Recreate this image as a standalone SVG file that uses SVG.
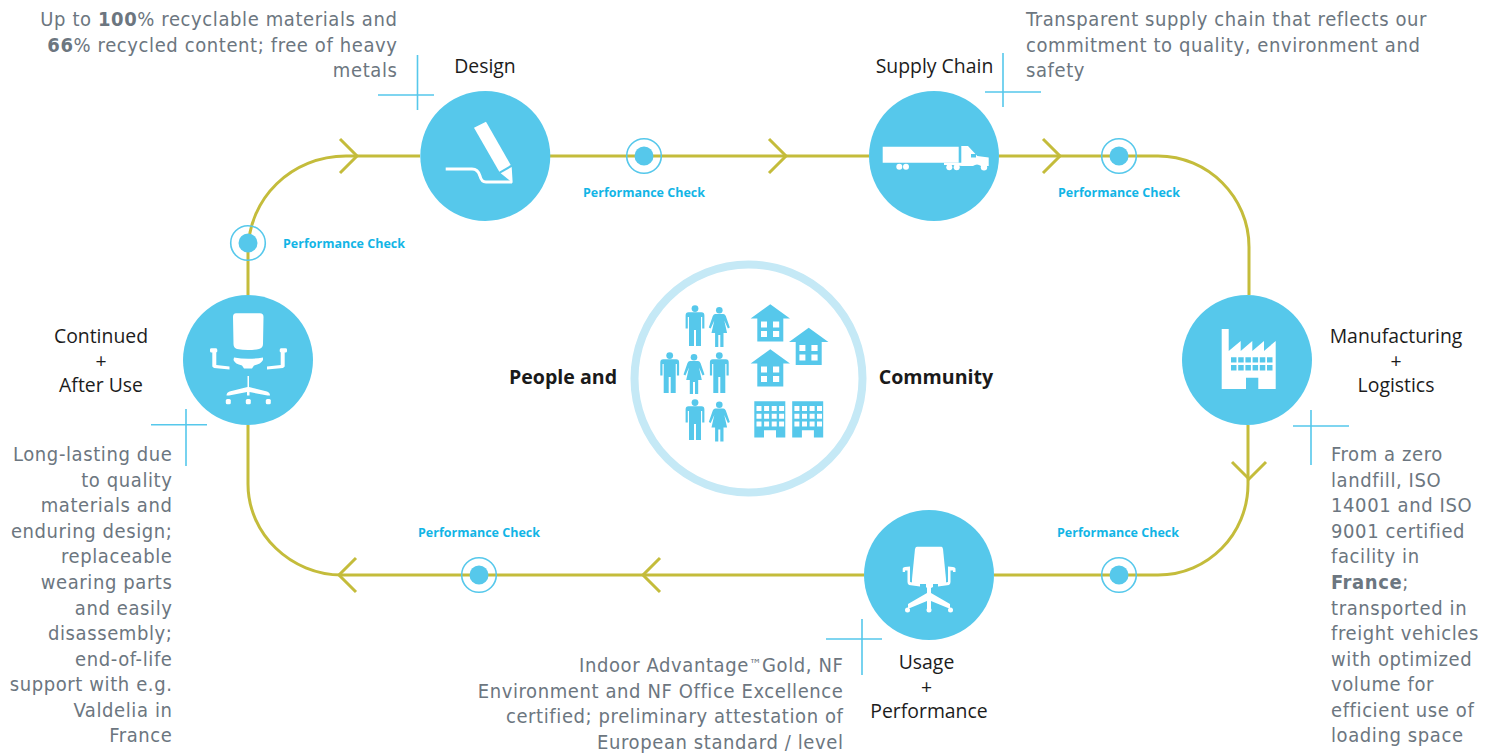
<svg xmlns="http://www.w3.org/2000/svg" width="1498" height="754" viewBox="0 0 1498 754">
<style>
.c{fill:#56c8eb}
.w{fill:#fff}
.ws{fill:none;stroke:#fff;stroke-width:3}
.l{font-family:"Open Sans","Noto Sans",sans-serif;font-size:19.400px;fill:#1c1c1c;text-anchor:middle}
.p{font-family:"Open Sans","Noto Sans",sans-serif;font-size:12.500px;font-weight:700;fill:#12b5e6;text-anchor:middle}
.m{font-family:"Open Sans","Noto Sans",sans-serif;font-size:19.600px;font-weight:700;fill:#1a1a1a;text-anchor:middle}
.g{font-family:"DejaVu Sans Condensed","DejaVu Sans",sans-serif;font-stretch:condensed;font-size:20px;fill:#6c7680;letter-spacing:.6px}
.e{text-anchor:end}
.b{font-weight:700}
.x{stroke:#56c8eb;stroke-width:1.600;fill:none}
.y{fill:none;stroke:#c4bc3b;stroke-width:3}
.r{fill:none;stroke:#56c8eb;stroke-width:1.600}
</style>
<defs>
<g id="man"><circle cx="0" cy="3.600" r="3.400"/><path d="M-6.500 7.300H6.500Q9.400 7.300 9.400 10.400V23.500H7.200V12H6V41H1V25H-1V41H-6V12H-7.200V23.500H-9.400V10.400Q-9.400 7.300-6.500 7.300Z"/></g>
<g id="woman"><circle cx="0" cy="3.300" r="3.300"/><path d="M-4 7H4Q5.600 7 6.500 9L10.500 20.500 8.600 21.600 5 13.500 7.800 26H4.200V40H1V28H-1V40H-4.200V26H-7.800L-5 13.500-8.600 21.600-10.500 20.500-6.500 9Q-5.600 7-4 7Z"/></g>
<path id="house" fill-rule="evenodd" d="M0 0 19.700 14.300H13V37.300H-13V14.300H-19.700ZM-9.300 17.300V23.300H-3.300V17.300ZM2.700 17.300V23.300H8.900V17.300ZM-9.300 26.700V32.700H-3.300V26.700ZM2.700 26.700V32.700H8.900V26.700Z"/>
<path id="block" fill-rule="evenodd" d="M0 0H31V36.300H21.700V29H9.700V36.300H0ZM2.200 4.700v5h5v-5ZM9.800 4.700v5h5v-5ZM17.400 4.700v5h5v-5ZM24.800 4.700v5h5v-5ZM2.200 12.500v5h5v-5ZM9.800 12.500v5h5v-5ZM17.400 12.500v5h5v-5ZM24.800 12.500v5h5v-5ZM2.200 20.300v5h5v-5ZM9.800 20.300v5h5v-5ZM17.400 20.300v5h5v-5ZM24.800 20.300v5h5v-5Z"/>
</defs>

<g id="connectors">
<path class="y" d="M248 295V252C248 198 292 156 346 156H420"/>
<path class="y" d="M550 156H869"/>
<path class="y" d="M999 156H1158C1208 156 1249 197 1249 247V295"/>
<path class="y" d="M1248 425V484C1248 534 1208 575 1158 575H994"/>
<path class="y" d="M864 575H342"/>
<path class="y" d="M342 575C291 575 248 534 248 484V425"/>
<path class="y" d="M340 139 357 156 340 173M769 139 786 156 769 173M1043 139 1060 156 1043 173M1232 462 1249 479 1266 462M660 558 643 575 660 592M356 558 339 575 356 592"/>
</g>

<g id="check-1"><circle class="r" cx="644" cy="156" r="17.300"/><circle class="c" cx="644" cy="156" r="9.500"/><text class="p" x="644" y="197">Performance Check</text></g>
<g id="check-2"><circle class="r" cx="1119" cy="156" r="17.300"/><circle class="c" cx="1119" cy="156" r="9.500"/><text class="p" x="1119" y="197">Performance Check</text></g>
<g id="check-3"><circle class="r" cx="1119" cy="575" r="17.300"/><circle class="c" cx="1119" cy="575" r="9.500"/><text class="p" x="1118" y="537">Performance Check</text></g>
<g id="check-4"><circle class="r" cx="479" cy="575" r="17.300"/><circle class="c" cx="479" cy="575" r="9.500"/><text class="p" x="479" y="537">Performance Check</text></g>
<g id="check-5"><circle class="r" cx="248" cy="243" r="17.300"/><circle class="c" cx="248" cy="243" r="9.500"/><text class="p" x="344" y="248">Performance Check</text></g>

<g id="design">
<circle class="c" cx="485.300" cy="156" r="65"/>
<path class="w" d="M474 127.700 486 121.700 510.700 165 499.300 171.700Z"/>
<path class="w" d="M500.700 173.300 511.700 167 512.700 183Z"/>
<path class="ws" d="M445.700 169H472Q478 169 480 176 481.500 182 486 182H512"/>
<text class="l" x="485" y="72.500">Design</text>
<path class="x" d="M417.500 55V110M378 95H434"/>
</g>

<g id="supply-chain">
<circle class="c" cx="934" cy="156" r="65"/>
<path class="w" d="M882.700 146.700H958.700V162.700H882.700Z"/>
<path class="w" d="M961.300 146H968L977.300 156 988.700 157.500V166H981Q977 163 973 166H962L952 165H944V162.700H961.300Z"/>
<circle class="w" cx="899.300" cy="166.700" r="3"/><circle class="w" cx="906" cy="166.700" r="3"/>
<circle class="w" cx="949.300" cy="167.200" r="3"/><circle class="w" cx="956.700" cy="167.200" r="3"/><circle class="w" cx="984" cy="167.200" r="3.200"/>
<path class="c" d="M971 154H976V157.500H971Z"/>
<text class="l" x="934.500" y="72.500">Supply Chain</text>
<path class="x" d="M1003 53V107M985 92H1041"/>
</g>

<g id="manufacturing">
<circle class="c" cx="1247" cy="360" r="65"/>
<path class="w" fill-rule="evenodd" d="M1221.700 329H1228.700V351L1240.700 341V351L1252.300 341V351L1264 341V351L1275.700 341V389H1258.300V377.700H1246V389H1221.700ZM1231 357.300v5.300h5.500v-5.300ZM1238.200 357.300v5.300h5.500v-5.300ZM1245.400 357.300v5.300h5.500v-5.300ZM1252.600 357.300v5.300h5.500v-5.300ZM1259.800 357.300v5.300h5.500v-5.300ZM1267 357.300v5.300h5.500v-5.300ZM1231 365v5.500h5.500V365ZM1238.200 365v5.500h5.500V365ZM1245.400 365v5.500h5.500V365ZM1252.600 365v5.500h5.500V365ZM1259.800 365v5.500h5.500V365ZM1267 365v5.500h5.500V365Z"/>
<text class="l"><tspan x="1396" y="342.500">Manufacturing</tspan><tspan x="1396" y="367.500">+</tspan><tspan x="1396" y="392">Logistics</tspan></text>
<path class="x" d="M1311 410V465M1293 426H1349"/>
</g>

<g id="usage">
<circle class="c" cx="929" cy="575" r="65"/>
<path class="w" d="M917 546.700H941.500Q942.500 546.700 943 549L946 579 946 584H912V579L915 549Q915.500 546.700 917 546.700Z"/>
<path class="w" d="M902.700 568.500Q903 567 905 567L910 566.500V582L920 584V586.500L909 585Q907.500 584 907.500 582V570.500H905V572H902.700ZM955.500 568.500Q955 567 953 567L948 566.500V582L938 584V586.500L949 585Q950.500 584 950.500 582V570.500H953V572H955.500Z"/>
<path class="w" d="M926 584H933V587L931 588V593L950 604 950 608H948L931 601V609H927V601L910 608H908L908 604 927 593V588L926 587Z"/>
<circle class="w" cx="907.500" cy="610" r="2.500"/><circle class="w" cx="929" cy="610" r="2.500"/><circle class="w" cx="950.500" cy="610" r="2.500"/>
<text class="l"><tspan x="926.500" y="668.500">Usage</tspan><tspan x="926.500" y="693.500">+</tspan><tspan x="929" y="718">Performance</tspan></text>
<path class="x" d="M862 619V675M826 639H882"/>
</g>

<g id="continued">
<circle class="c" cx="248" cy="360" r="65"/>
<path class="w" d="M236 313.300H260Q263.500 313.300 263.500 317L263 344Q263 348 259 349 248 351 237 349 233.500 348 233.500 344L233 317Q233 313.300 236 313.300Z"/>
<path class="w" d="M234 357.500Q248 360 263 357.500V360Q261 364 254 365.500L252 368.500H244L242 365.500Q235 364 233.500 360Z"/>
<path class="w" d="M210 349.500Q210 348.300 211.500 348.300H216Q217.300 348.300 217.300 350V351.500L216.300 352.500V365L229.500 366.500V369.500L214 368 212.300 366.500V352.500H211Q210 352 210 351ZM287 349.500Q287 348.300 285.500 348.300H281Q279.700 348.300 279.700 350V351.500L280.700 352.500V365L267 366.500V369.500L283 368 284.700 366.500V352.500H286Q287 352 287 351Z"/>
<path class="w" d="M247.500 376H249V387L267 391.500Q270 392.500 270 395.500H267.500L249.500 392V395.500H247V392L229 395.500H226.500Q226.500 392.500 229.500 391.500L247.500 387Z"/>
<rect class="w" x="225.800" y="399" width="5" height="5.200" rx="1.500"/><rect class="w" x="245.800" y="399" width="5" height="5.200" rx="1.500"/><rect class="w" x="265.800" y="399" width="5" height="5.200" rx="1.500"/>
<text class="l"><tspan x="101" y="342.500">Continued</tspan><tspan x="101" y="367.500">+</tspan><tspan x="101" y="392">After Use</tspan></text>
<path class="x" d="M186 409V466M151 424.700H207"/>
</g>

<g id="community">
<circle cx="748.500" cy="378.500" r="114" fill="none" stroke="#c5e9f6" stroke-width="8"/>
<g class="c">
<use href="#man" x="695" y="305"/><use href="#woman" x="719.300" y="307"/>
<use href="#man" x="669.700" y="352"/><use href="#woman" x="694" y="354"/><use href="#man" x="719.300" y="352"/>
<use href="#man" x="695" y="399"/><use href="#woman" x="719.300" y="401.500"/>
<use href="#house" x="770.300" y="304.300"/><use href="#house" x="808.700" y="327.700"/><use href="#house" x="770.300" y="349.300"/>
<use href="#block" x="754.300" y="401.300"/><use href="#block" x="792.200" y="401.300"/>
</g>
<text class="m" x="563" y="384">People and</text>
<text class="m" x="936" y="384">Community</text>
</g>

<g id="notes">
<text class="g e"><tspan x="397.500" y="26">Up to <tspan class="b">100</tspan>% recyclable materials and</tspan><tspan x="397.500" y="52"><tspan class="b">66</tspan>% recycled content; free of heavy</tspan><tspan x="397.500" y="77">metals</tspan></text>
<text class="g"><tspan x="1026" y="26">Transparent supply chain that reflects our</tspan><tspan x="1026" y="52">commitment to quality, environment and</tspan><tspan x="1026" y="77">safety</tspan></text>
<text class="g e"><tspan x="172.500" y="461">Long-lasting due</tspan><tspan x="172.500" y="487">to quality</tspan><tspan x="172.500" y="512">materials and</tspan><tspan x="172.500" y="538">enduring design;</tspan><tspan x="172.500" y="563">replaceable</tspan><tspan x="172.500" y="589">wearing parts</tspan><tspan x="172.500" y="615">and easily</tspan><tspan x="172.500" y="640">disassembly;</tspan><tspan x="172.500" y="666">end-of-life</tspan><tspan x="172.500" y="691">support with e.g.</tspan><tspan x="172.500" y="717">Valdelia in</tspan><tspan x="172.500" y="742">France</tspan></text>
<text class="g"><tspan x="1331" y="461">From a zero</tspan><tspan x="1331" y="487">landfill, ISO</tspan><tspan x="1331" y="512">14001 and ISO</tspan><tspan x="1331" y="538">9001 certified</tspan><tspan x="1331" y="563">facility in</tspan><tspan x="1331" y="589"><tspan class="b">France</tspan>;</tspan><tspan x="1331" y="615">transported in</tspan><tspan x="1331" y="640">freight vehicles</tspan><tspan x="1331" y="666">with optimized</tspan><tspan x="1331" y="691">volume for</tspan><tspan x="1331" y="717">efficient use of</tspan><tspan x="1331" y="742">loading space</tspan></text>
<text class="g e"><tspan x="843.500" y="672">Indoor Advantage<tspan font-size="14" dy="-3">™</tspan><tspan dy="3">Gold, NF</tspan></tspan><tspan x="843.500" y="698">Environment and NF Office Excellence</tspan><tspan x="843.500" y="723">certified; preliminary attestation of</tspan><tspan x="843.500" y="749">European standard / level</tspan></text>
</g>
</svg>
